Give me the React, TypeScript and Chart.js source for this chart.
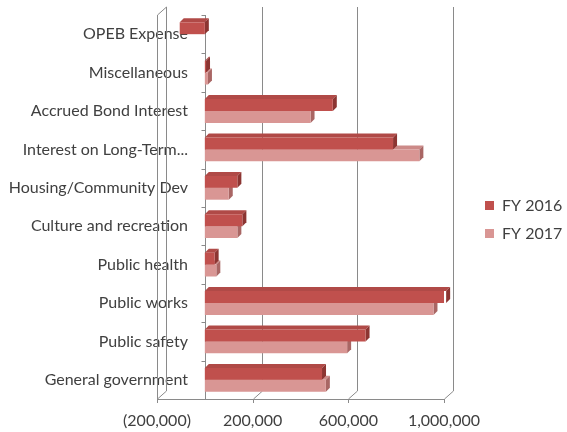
import React, { useEffect, useRef } from 'react';
import { Chart, registerables } from 'chart.js';

Chart.register(...registerables);

// ---- data (top to bottom) ----
const categories = [
  'OPEB Expense',
  'Miscellaneous',
  'Accrued Bond Interest',
  'Interest on Long-Term...',
  'Housing/Community Dev',
  'Culture and recreation',
  'Public health',
  'Public works',
  'Public safety',
  'General government',
];
const fy2016 = [-105000, 5000, 535000, 787000, 136000, 157000, 41000, 1009000, 672000, 490000];
const fy2017 = [0, 13000, 442000, 897000, 100000, 136000, 48000, 956000, 595000, 506000];
const seriesNames = ['FY 2016', 'FY 2017'];
const axisMin = -200000;
const axisMax = 1000000;
const axisStep = 400000;

const FONT = 'Lato, "Open Sans", sans-serif';
const TEXT = '#404040';
const GRID = '#8a8a8a';
const DARK = '#C0504D';
const LIGHT = '#D99694';
const FACES = [
  { top: '#B04A47', side: '#8C3532' },
  { top: '#CC8A88', side: '#A96664' },
];
const DX = 9;
const DY = 8;
const D = 4;

const wall3d = {
  id: 'wall3d',
  beforeDatasetsDraw(chart: any) {
    const { ctx, chartArea, scales } = chart;
    const { top, bottom, left, right } = chartArea;
    const x = scales.x;
    const y = scales.y;
    ctx.save();
    ctx.strokeStyle = GRID;
    ctx.lineWidth = 1;
    ctx.beginPath();
    // floor front edge
    ctx.moveTo(left, Math.round(bottom) + 0.5);
    ctx.lineTo(right, Math.round(bottom) + 0.5);
    // left wall front edge
    const l = Math.round(left) + 0.5;
    ctx.moveTo(l, bottom);
    ctx.lineTo(l, top);
    ctx.lineTo(l + DX, top - DY);
    // back-wall gridlines with slanted floor ticks and small outer tick marks
    x.ticks.forEach((t: any) => {
      const px = Math.round(x.getPixelForValue(t.value)) + 0.5;
      ctx.moveTo(px, bottom + 4);
      ctx.lineTo(px, bottom);
      ctx.lineTo(px + DX, bottom - DY);
      ctx.lineTo(px + DX, top - DY);
    });
    // category axis at zero with its tick marks
    const x0 = Math.round(x.getPixelForValue(0)) + 0.5;
    ctx.moveTo(x0, top);
    ctx.lineTo(x0, bottom);
    for (let i = 0; i <= categories.length; i++) {
      const yy = Math.round(y.getPixelForValue(i - 0.5)) + 0.5;
      ctx.moveTo(x0 - 4, yy);
      ctx.lineTo(x0, yy);
    }
    ctx.stroke();

    // 3D faces of the bars (drawn behind the front faces)
    for (let i = chart.data.datasets.length - 1; i >= 0; i--) {
      const meta = chart.getDatasetMeta(i);
      const face = FACES[i];
      meta.data.forEach((el: any) => {
        const p = el.getProps(['x', 'y', 'base', 'height'], true);
        const lx = Math.min(p.x, p.base);
        const rx = Math.max(p.x, p.base);
        if (rx - lx < 0.01) return;
        const t = p.y - p.height / 2;
        const b = p.y + p.height / 2;
        ctx.fillStyle = face.top;
        ctx.beginPath();
        ctx.moveTo(lx, t);
        ctx.lineTo(lx + D, t - D);
        ctx.lineTo(rx + D, t - D);
        ctx.lineTo(rx, t);
        ctx.closePath();
        ctx.fill();
        ctx.fillStyle = face.side;
        ctx.beginPath();
        ctx.moveTo(rx, t);
        ctx.lineTo(rx + D, t - D);
        ctx.lineTo(rx + D, b - D);
        ctx.lineTo(rx, b);
        ctx.closePath();
        ctx.fill();
      });
    }
    ctx.restore();
  },
};

const legendShift = {
  id: 'legendShift',
  afterLayout(chart: any) {
    const lg = chart.legend;
    if (lg) {
      lg.left += 29;
      lg.right += 59;
      lg.width += 30;
      lg.top -= 4;
      lg.bottom -= 4;
    }
  },
};

export default function App() {
  const ref = useRef<HTMLCanvasElement>(null);
  useEffect(() => {
    if (!ref.current) return;
    const chart = new Chart(ref.current, {
      type: 'bar',
      data: {
        labels: categories,
        datasets: [
          { label: seriesNames[0], data: fy2016, backgroundColor: DARK, borderWidth: 0 },
          { label: seriesNames[1], data: fy2017, backgroundColor: LIGHT, borderWidth: 0 },
        ],
      },
      options: {
        indexAxis: 'y',
        animation: false,
        responsive: true,
        maintainAspectRatio: false,
        layout: { padding: { left: 0, right: 43, top: 15, bottom: 0 } },
        datasets: { bar: { categoryPercentage: 0.62, barPercentage: 1 } },
        scales: {
          x: {
            type: 'linear',
            min: axisMin,
            max: axisMax,
            afterFit: (s: any) => {
              s.height = 33;
            },
            ticks: {
              stepSize: axisStep,
              padding: 12,
              color: TEXT,
              font: { family: FONT, size: 16 },
              maxRotation: 0,
              callback: (v: any) => {
                const n = Number(v);
                const s = Math.abs(n).toLocaleString('en-US');
                return n < 0 ? `(${s})` : s;
              },
            },
            grid: { display: false, drawTicks: false },
            border: { display: false },
          },
          y: {
            type: 'category',
            position: 'left',
            afterFit: (s: any) => {
              s.width = 157;
              // let the category labels run into the plot area, as in the original
              s._computeLabelArea = () => undefined;
            },
            ticks: { color: TEXT, font: { family: FONT, size: 16 }, padding: -31 },
            grid: { display: false, drawTicks: false },
            border: { display: false },
          },
        },
        plugins: {
          legend: {
            position: 'right',
            maxWidth: 80,
            labels: {
              boxWidth: 9,
              boxHeight: 9,
              padding: 12,
              color: TEXT,
              font: { family: FONT, size: 16 },
            },
          },
          tooltip: { enabled: false },
        },
      },
      plugins: [wall3d, legendShift],
    });
    return () => chart.destroy();
  }, []);
  return (
    <div style={{ position: 'fixed', left: 0, top: 0, width: 567, height: 432, background: '#fff' }}>
      <canvas ref={ref} />
    </div>
  );
}
